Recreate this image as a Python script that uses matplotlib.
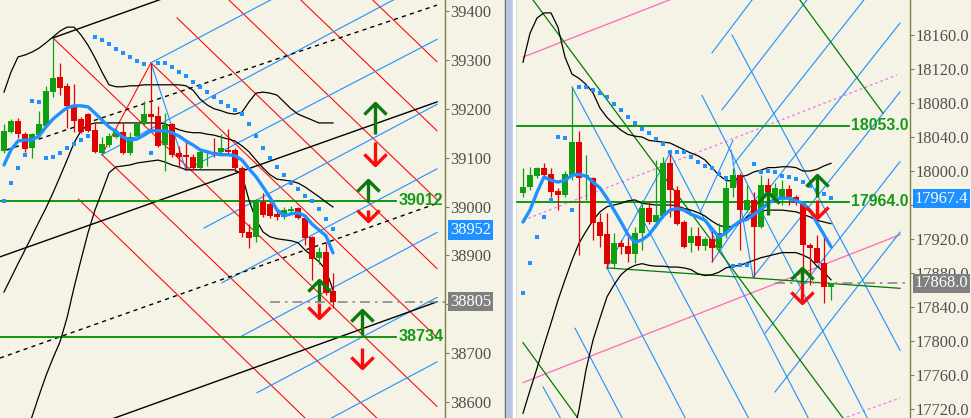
import numpy as np
import matplotlib
matplotlib.use('Agg')
import matplotlib.pyplot as plt
from matplotlib.path import Path
from matplotlib.patches import Rectangle

# ---------------- LEFT PANEL DATA (bar index, price) ----------------
L_open = [39114,39153,39175,39148,39120,39146,39165,39234,39265,39247,39208,39179,39189,39157,39110,39126,
          39142,39153,39110,39144,39169,39189,39185,39126,39169,39110,39106,39101,39079,39110,39112,39112,
          39116,39116,39079,38948,38938,39009,39005,38985,38979,38991,38997,38977,38938,38895,38907,38827]
L_high = [39169,39179,39181,39153,39150,39196,39247,39345,39294,39253,39251,39183,39191,39171,39142,39150,
          39161,39171,39153,39171,39216,39294,39206,39191,39171,39124,39136,39108,39116,39116,39140,39148,
          39159,39120,39083,38964,39016,39028,39011,38991,38999,39001,38999,38981,38940,38917,38928,38864]
L_low = [39110,39150,39140,39112,39099,39142,39163,39224,39228,39161,39153,39150,39153,39110,39106,39122,
         39140,39108,39106,39142,39167,39153,39122,39073,39101,39079,39075,39075,39077,39083,39101,39108,
         39106,39071,38938,38915,38928,38979,38977,38973,38975,38985,38975,38921,38850,38883,38819,38793]
L_close = [39155,39175,39148,39118,39148,39169,39236,39263,39243,39206,39175,39153,39155,39112,39128,39144,
           39155,39110,39142,39169,39189,39183,39124,39167,39106,39101,39101,39079,39112,39112,39110,39120,
           39112,39079,38946,38936,39009,38983,38981,38979,38993,38995,38977,38936,38893,38907,38823,38805]
L_ma = [39085,39116,39134,39136,39136,39144,39163,39179,39191,39202,39206,39206,39204,39191,39177,39163,
        39153,39142,39136,39138,39146,39155,39155,39155,39151,39144,39134,39126,39116,39112,39108,39106,
        39106,39104,39095,39077,39061,39040,39018,38993,38981,38985,38987,38981,38964,38952,38940,38905]
L_sar = [39011,39048,39079,39106,39216,39214,39099,39101,39110,39120,39128,39136,39144,39347,39341,39333,
         39322,39314,39306,39298,39292,39110,39294,39294,39285,39275,39267,39255,39245,39234,39224,39214,
         39206,39198,39189,39169,39144,39120,39099,39081,39065,39048,39036,39022,39011,38995,38975,38954]
L_band_up = [39234,39275,39306,39310,39316,39324,39335,39347,39359,39367,39367,39351,39330,39304,39275,39249,
             39245,39245,39247,39247,39249,39249,39249,39249,39249,39249,39247,39238,39220,39208,39200,39196,
             39191,39189,39193,39214,39232,39234,39232,39228,39214,39200,39189,39183,39177,39171,39171,39171]
L_band_mid = [38825,38854,38883,38911,38940,38969,38997,39028,39061,39095,39130,39155,39167,39171,39171,39171,
              39171,39171,39171,39171,39171,39171,39171,39169,39163,39157,39153,39151,39151,39148,39146,39142,
              39138,39134,39124,39112,39095,39079,39065,39056,39054,39052,39048,39040,39030,39020,39009,38999]
L_band_low = [38400,38445,38488,38529,38570,38613,38654,38690,38723,38772,38834,38891,38946,38993,39030,39069,
              39081,39083,39085,39089,39091,39093,39095,39091,39085,39081,39075,39075,39075,39075,39075,39075,
              39075,39075,39065,39013,38973,38948,38938,38934,38932,38930,38926,38911,38899,38887,38870,38829]
L_ticks = [38600, 38700, 38800, 38900, 39000, 39100, 39200, 39300, 39400]
L_hidden_ticks = [38800]          # covered by the last-price box in the reference
L_levels = [39012, 38734]
L_level_labels = ['39012', '38734']
L_last = 38805
L_ma_label = 38952
# trend lines: (x0, p0, x1, p1)
L_red_lines = [(51.19, 39443, 61.86, 39296), (40.91, 39443, 61.86, 39155), (30.64, 39443, 61.86, 39014),
               (24.71, 39386, 61.86, 38873), (21.0, 39294, 61.86, 38732), (7.0, 39345, 61.86, 38591),
               (14.0, 39106, 54.3, 38553), (10.64, 39015, 44.04, 38553), (14.0, 39106, 21.0, 39294)]
L_blue_lines = [(21.0, 39294, 40.8, 39443), (14.0, 39106, 58.3, 39443), (26.0, 39075, 61.86, 39342),
                (28.57, 38956, 61.86, 39209), (31.14, 38844, 61.86, 39077), (33.71, 38733, 61.86, 38947),
                (36.14, 38619, 61.86, 38814), (38.71, 38506, 61.86, 38682), (21.0, 39294, 26.0, 39075)]
L_black_solid = [(7.0, 39345, 26.14, 39443), (-0.57, 38897, 61.86, 39214), (13.04, 38553, 61.86, 38805)]
L_black_dashed = [(0.43, 39116, 61.86, 39412), (-0.57, 38690, 62.0, 39007)]
# arrows: (x, tail, tip)
L_up_arrows = [(53.0, 39148, 39212), (52.0, 39009, 39054), (45.0, 38807, 38850), (51.1, 38737, 38789)]
L_dn_arrows = [(53.0, 39132, 39085), (52.0, 38993, 38971), (45.0, 38803, 38772), (51.1, 38711, 38670)]

# ---------------- RIGHT PANEL DATA ----------------
R_open = [17974,17981,17994,18004,17996,17976,17972,17995,18034,17993,17992,17940,17926,17891,17915,17912,
          17902,17927,17956,17940,17947,18009,17978,17940,17915,17924,17912,17920,17909,17927,17980,17995,
          17954,17966,17934,17983,17969,17969,17979,17969,17962,17913,17909,17892,17864]
R_high = [18004,18005,18005,18009,18004,17980,18000,18099,18047,18019,17993,17951,17951,17927,17919,17922,
          17934,17966,17963,18013,18016,18021,17982,17942,17934,17934,17922,17934,17939,17993,18004,17998,
          17983,17975,17995,17992,17986,17989,17983,17972,17963,17915,17925,17926,17868]
R_low = [17969,17978,17992,17994,17969,17954,17969,17989,17901,17966,17919,17911,17886,17886,17902,17893,
         17892,17907,17938,17934,17945,17946,17936,17909,17905,17907,17907,17893,17905,17921,17969,17907,
         17952,17875,17933,17951,17968,17960,17960,17960,17874,17866,17892,17845,17848]
R_close = [17981,17995,18004,17995,17975,17972,17996,18034,17992,17995,17939,17924,17891,17915,17911,17902,
           17927,17956,17940,17948,18009,17978,17938,17911,17924,17912,17920,17909,17927,17980,17995,17954,
           17966,17934,17983,17975,17980,17979,17969,17962,17913,17909,17892,17864,17868]
R_ma = [17940,17954,17975,17993,17989,17987,17989,17995,17996,17994,17987,17980,17968,17954,17940,17925,
        17916,17919,17925,17936,17947,17954,17956,17954,17949,17946,17942,17932,17922,17927,17935,17941,
        17943,17949,17955,17962,17967,17968,17968,17965,17962,17954,17939,17925,17911]
R_sar = [17856,17892,17922,17946,17966,18040,18039,17954,18099,18099,18095,18092,18087,18079,18072,18063,
         18056,18049,18045,18038,18032,18022,18022,18022,18016,18011,18006,18004,17996,17992,17888,17889,
         17889,18008,17999,18000,17999,17994,17993,17991,17987,17982,17978,17973,17968]
R_band_up = [18128,18162,18180,18186,18186,18169,18134,18114,18109,18102,18092,18074,18063,18055,18048,18043,
             18041,18040,18036,18035,18034,18033,18029,18025,18021,18018,18013,18004,17995,17989,17988,17993,
             17995,17999,18001,18004,18004,18005,18005,18004,18000,18000,18002,18006,18009]
R_band_mid = [17715,17742,17768,17795,17821,17848,17872,17895,17915,17929,17942,17952,17958,17960,17962,17965,
              17966,17962,17961,17960,17960,17960,17959,17956,17954,17951,17947,17941,17936,17934,17935,17939,
              17946,17951,17953,17954,17954,17954,17953,17952,17949,17946,17942,17940,17938]
nan = float('nan')
R_band_low = [nan, nan, nan, nan, nan, nan, nan, 17684, 17719, 17766, 17801, 17827, 17852, 17866, 17878, 17885,
              17889, 17891, 17889, 17888, 17888, 17887, 17887, 17886, 17884, 17879, 17877, 17878, 17881, 17886,
              17888, 17889, 17892, 17895, 17898, 17900, 17902, 17904, 17904, 17904, 17901, 17897, 17888, 17881, 17872]
R_ticks = [17720, 17760, 17800, 17840, 17880, 17920, 17960, 18000, 18040, 18080, 18120, 18160]
R_hidden_ticks = [17960]          # covered by the indicator box in the reference
R_levels = [18053.0, 17964.0]
R_level_labels = ['18053.0', '17964.0']
R_last = 17868.0
R_ma_label = 17967.4
R_blue_desc = [(7.0, 18099, 32.76, 17701), (2.86, 17746, 5.91, 17701), (7.43, 17815, 14.71, 17701),
               (12.0, 17886, 23.71, 17701), (21.0, 18021, 41.29, 17701), (25.57, 18089, 49.71, 17701),
               (29.86, 18160, 53.86, 17789), (29.71, 18025, 32.86, 17875)]
R_blue_asc = [(27.0, 18139, 33.81, 18213), (28.43, 18072, 41.67, 18213), (30.0, 18007, 49.84, 18213),
              (31.43, 17941, 53.86, 18174), (32.86, 17875, 53.86, 18093), (34.57, 17809, 53.86, 18011),
              (36.0, 17740, 53.86, 17928), (12.0, 17886, 21.0, 18021), (25.29, 17951, 30.0, 18036),
              (27.0, 17893, 33.86, 17974)]
R_green_lines = [(0.37, 18213, 46.46, 17701), (38.5, 18213, 51.43, 18068), (0.0, 17798, 8.56, 17701),
                 (12.0, 17886, 53.86, 17862)]
R_pink_solid = [(0.0, 18134, 24.57, 18213), (0.0, 17751, 53.86, 17925)]
R_pink_dotted = [(0.0, 17942, 53.43, 18113), (43.1, 17701, 53.86, 17733)]
R_up_arrows = [(42.0, 17969, 17995), (39.86, 17868, 17886), (35.0, 17948, 17975)]
R_dn_arrows = [(42.0, 17966, 17945), (39.86, 17868, 17845)]

# ---------------- STYLE ----------------
BG = '#f5f3e6'
OLIVE = '#7f7f48'
C_UP = '#0ea00e'
C_DN = '#e30000'
BLUE = '#1e90ff'
ARROW_G = '#0b7a0b'
ARROW_R = '#ff0a0a'
LEVEL_G = '#139913'
SERIF = 'Liberation Serif'
SANS = 'Liberation Sans'

fig = plt.figure(figsize=(9.71, 4.18), dpi=100)
fig.patch.set_facecolor(BG)
ax1 = fig.add_axes([0, 0, 445/971, 1])
ax2 = fig.add_axes([515/971, 0, 395/971, 1])


def style(ax, xlim, ylim, ticks, labels, left_spine):
    ax.set_facecolor(BG)
    ax.set_xlim(*xlim)
    ax.set_ylim(*ylim)
    for s in ['top', 'bottom', 'left']:
        ax.spines[s].set_visible(False)
    ax.spines['right'].set_color(OLIVE)
    ax.spines['right'].set_linewidth(1.0)
    if left_spine:
        ax.spines['left'].set_visible(True)
        ax.spines['left'].set_color(OLIVE)
        ax.spines['left'].set_linewidth(1.0)
    ax.set_xticks([])
    ax.yaxis.tick_right()
    ax.set_yticks(ticks)
    ax.set_yticklabels(labels, fontfamily=SERIF, fontsize=11.8, color='#505050')
    ax.tick_params(axis='y', length=3, width=0.8, color=OLIVE, pad=0.8)


style(ax1, (-4/7, 441/7), (38567.3, 39422.5), L_ticks,
      ['' if t in L_hidden_ticks else str(t) for t in L_ticks], False)
style(ax2, (-8/7, 387/7), (17709.4, 18201.2), R_ticks,
      ['' if t in R_hidden_ticks else f'{t:.1f}' for t in R_ticks], True)


def candles(ax, o, h, l, c, minh):
    o, h, l, c = map(np.asarray, (o, h, l, c))
    x = np.arange(len(o))
    cols = np.where(c >= o, C_UP, C_DN)
    ax.vlines(x, l, h, colors=cols, lw=0.9, zorder=5)
    bottom = np.minimum(o, c)
    height = np.maximum(np.abs(c - o), minh)
    ax.bar(x, height, width=0.72, bottom=bottom, color=cols, lw=0, zorder=5)


def segs(ax, lst, **kw):
    for x0, p0, x1, p1 in lst:
        ax.plot([x0, x1], [p0, p1], **kw)


CHEV_UP = Path([(-1, -1), (0, 0), (1, -1)], [Path.MOVETO, Path.LINETO, Path.LINETO])
CHEV_DN = Path([(-1, 1), (0, 0), (1, 1)], [Path.MOVETO, Path.LINETO, Path.LINETO])


def arrows(ax, lst, color, up):
    for x, tail, tip in lst:
        ax.plot([x, x], [tail, tip], color=color, lw=2.4, zorder=9, solid_capstyle='butt')
        ax.plot([x], [tip], marker=CHEV_UP if up else CHEV_DN, ms=16, mfc='none',
                mec=color, mew=2.4, zorder=9, ls='none')


def price_box(ax, axw, price, text, color):
    tr = ax.get_yaxis_transform()
    ax.text(1 + 5/axw, price, text, transform=tr, ha='left', va='center', fontfamily=SERIF,
            fontsize=11.8, color='white', zorder=20, clip_on=False,
            bbox=dict(boxstyle='square,pad=0.1', fc=color, ec='none'))


# ---- left panel drawing ----
ax = ax1
segs(ax, L_red_lines, color='#ff0000', lw=0.75, zorder=2)
segs(ax, L_blue_lines, color=BLUE, lw=0.8, zorder=2)
segs(ax, L_black_solid, color='black', lw=1.0, zorder=2)
segs(ax, L_black_dashed, color='black', lw=1.0, ls=(0, (3, 3)), zorder=2)
for lv in L_levels:
    ax.plot([-4/7, 56.0], [lv, lv], color='#009000', lw=1.3, zorder=3)
for lv, lab in zip(L_levels, L_level_labels):
    ax.text(56.3, lv, lab, ha='left', va='center', fontfamily=SANS, fontweight='bold',
            fontsize=11.6, color=LEVEL_G, zorder=8)
ax.plot([38.0, 63.0], [L_last, L_last], color='#8a8a8a', lw=1.2, ls=(0, (6, 3, 1.5, 3)), zorder=3)
xl = np.arange(len(L_open))
for band in (L_band_up, L_band_mid, L_band_low):
    ax.plot(xl, band, color='black', lw=0.9, zorder=3)
candles(ax, L_open, L_high, L_low, L_close, 2.5)
ax.plot(xl, L_ma, color=BLUE, lw=2.4, zorder=6, solid_capstyle='round')
ax.plot(xl, L_sar, ls='none', marker='s', ms=2.4, mew=0, color=BLUE, zorder=6)
arrows(ax, L_up_arrows, ARROW_G, True)
arrows(ax, L_dn_arrows, ARROW_R, False)
price_box(ax, 445, L_ma_label, f'{L_ma_label:.0f}', BLUE)
price_box(ax, 445, L_last, f'{L_last:.0f}', '#808080')

# ---- right panel drawing ----
ax = ax2
segs(ax, R_pink_solid, color='#ff69b4', lw=0.9, zorder=2)
segs(ax, R_pink_dotted, color='#ee82ee', lw=1.0, ls=(0, (2, 2)), zorder=2)
segs(ax, R_blue_desc, color=BLUE, lw=0.8, zorder=2)
segs(ax, R_blue_asc, color=BLUE, lw=0.8, zorder=2)
segs(ax, R_green_lines, color='#007a00', lw=0.9, zorder=2)
for lv in R_levels:
    ax.plot([-8/7, 46.6], [lv, lv], color='#009000', lw=1.3, zorder=3)
for lv, lab in zip(R_levels, R_level_labels):
    ax.text(46.85, lv, lab, ha='left', va='center', fontfamily=SANS, fontweight='bold',
            fontsize=11.4, color=LEVEL_G, zorder=8)
ax.plot([36.0, 55.3], [R_last, R_last], color='#8a8a8a', lw=1.2, ls=(0, (6, 3, 1.5, 3)), zorder=3)
xr = np.arange(len(R_open))
for band in (R_band_up, R_band_mid, R_band_low):
    ax.plot(xr, band, color='black', lw=0.9, zorder=3)
candles(ax, R_open, R_high, R_low, R_close, 1.5)
ax.plot(xr, R_ma, color=BLUE, lw=2.4, zorder=6, solid_capstyle='round')
ax.plot(xr, R_sar, ls='none', marker='s', ms=2.4, mew=0, color=BLUE, zorder=6)
arrows(ax, R_up_arrows, ARROW_G, True)
arrows(ax, R_dn_arrows, ARROW_R, False)
price_box(ax, 395, R_ma_label, f'{R_ma_label:.1f}', BLUE)
price_box(ax, 395, R_last, f'{R_last:.1f}', '#808080')

# ---- separator between panels ----
fig.add_artist(Rectangle((505/971, 0), 1/971, 1, transform=fig.transFigure, color='#5a5a5a', zorder=30))
fig.add_artist(Rectangle((506/971, 0), 7/971, 1, transform=fig.transFigure, color='#b7c8de', zorder=30))
fig.add_artist(Rectangle((513/971, 0), 2/971, 1, transform=fig.transFigure, color='#ffffff', zorder=30))

fig.savefig('out.png', dpi=100, facecolor=BG)
